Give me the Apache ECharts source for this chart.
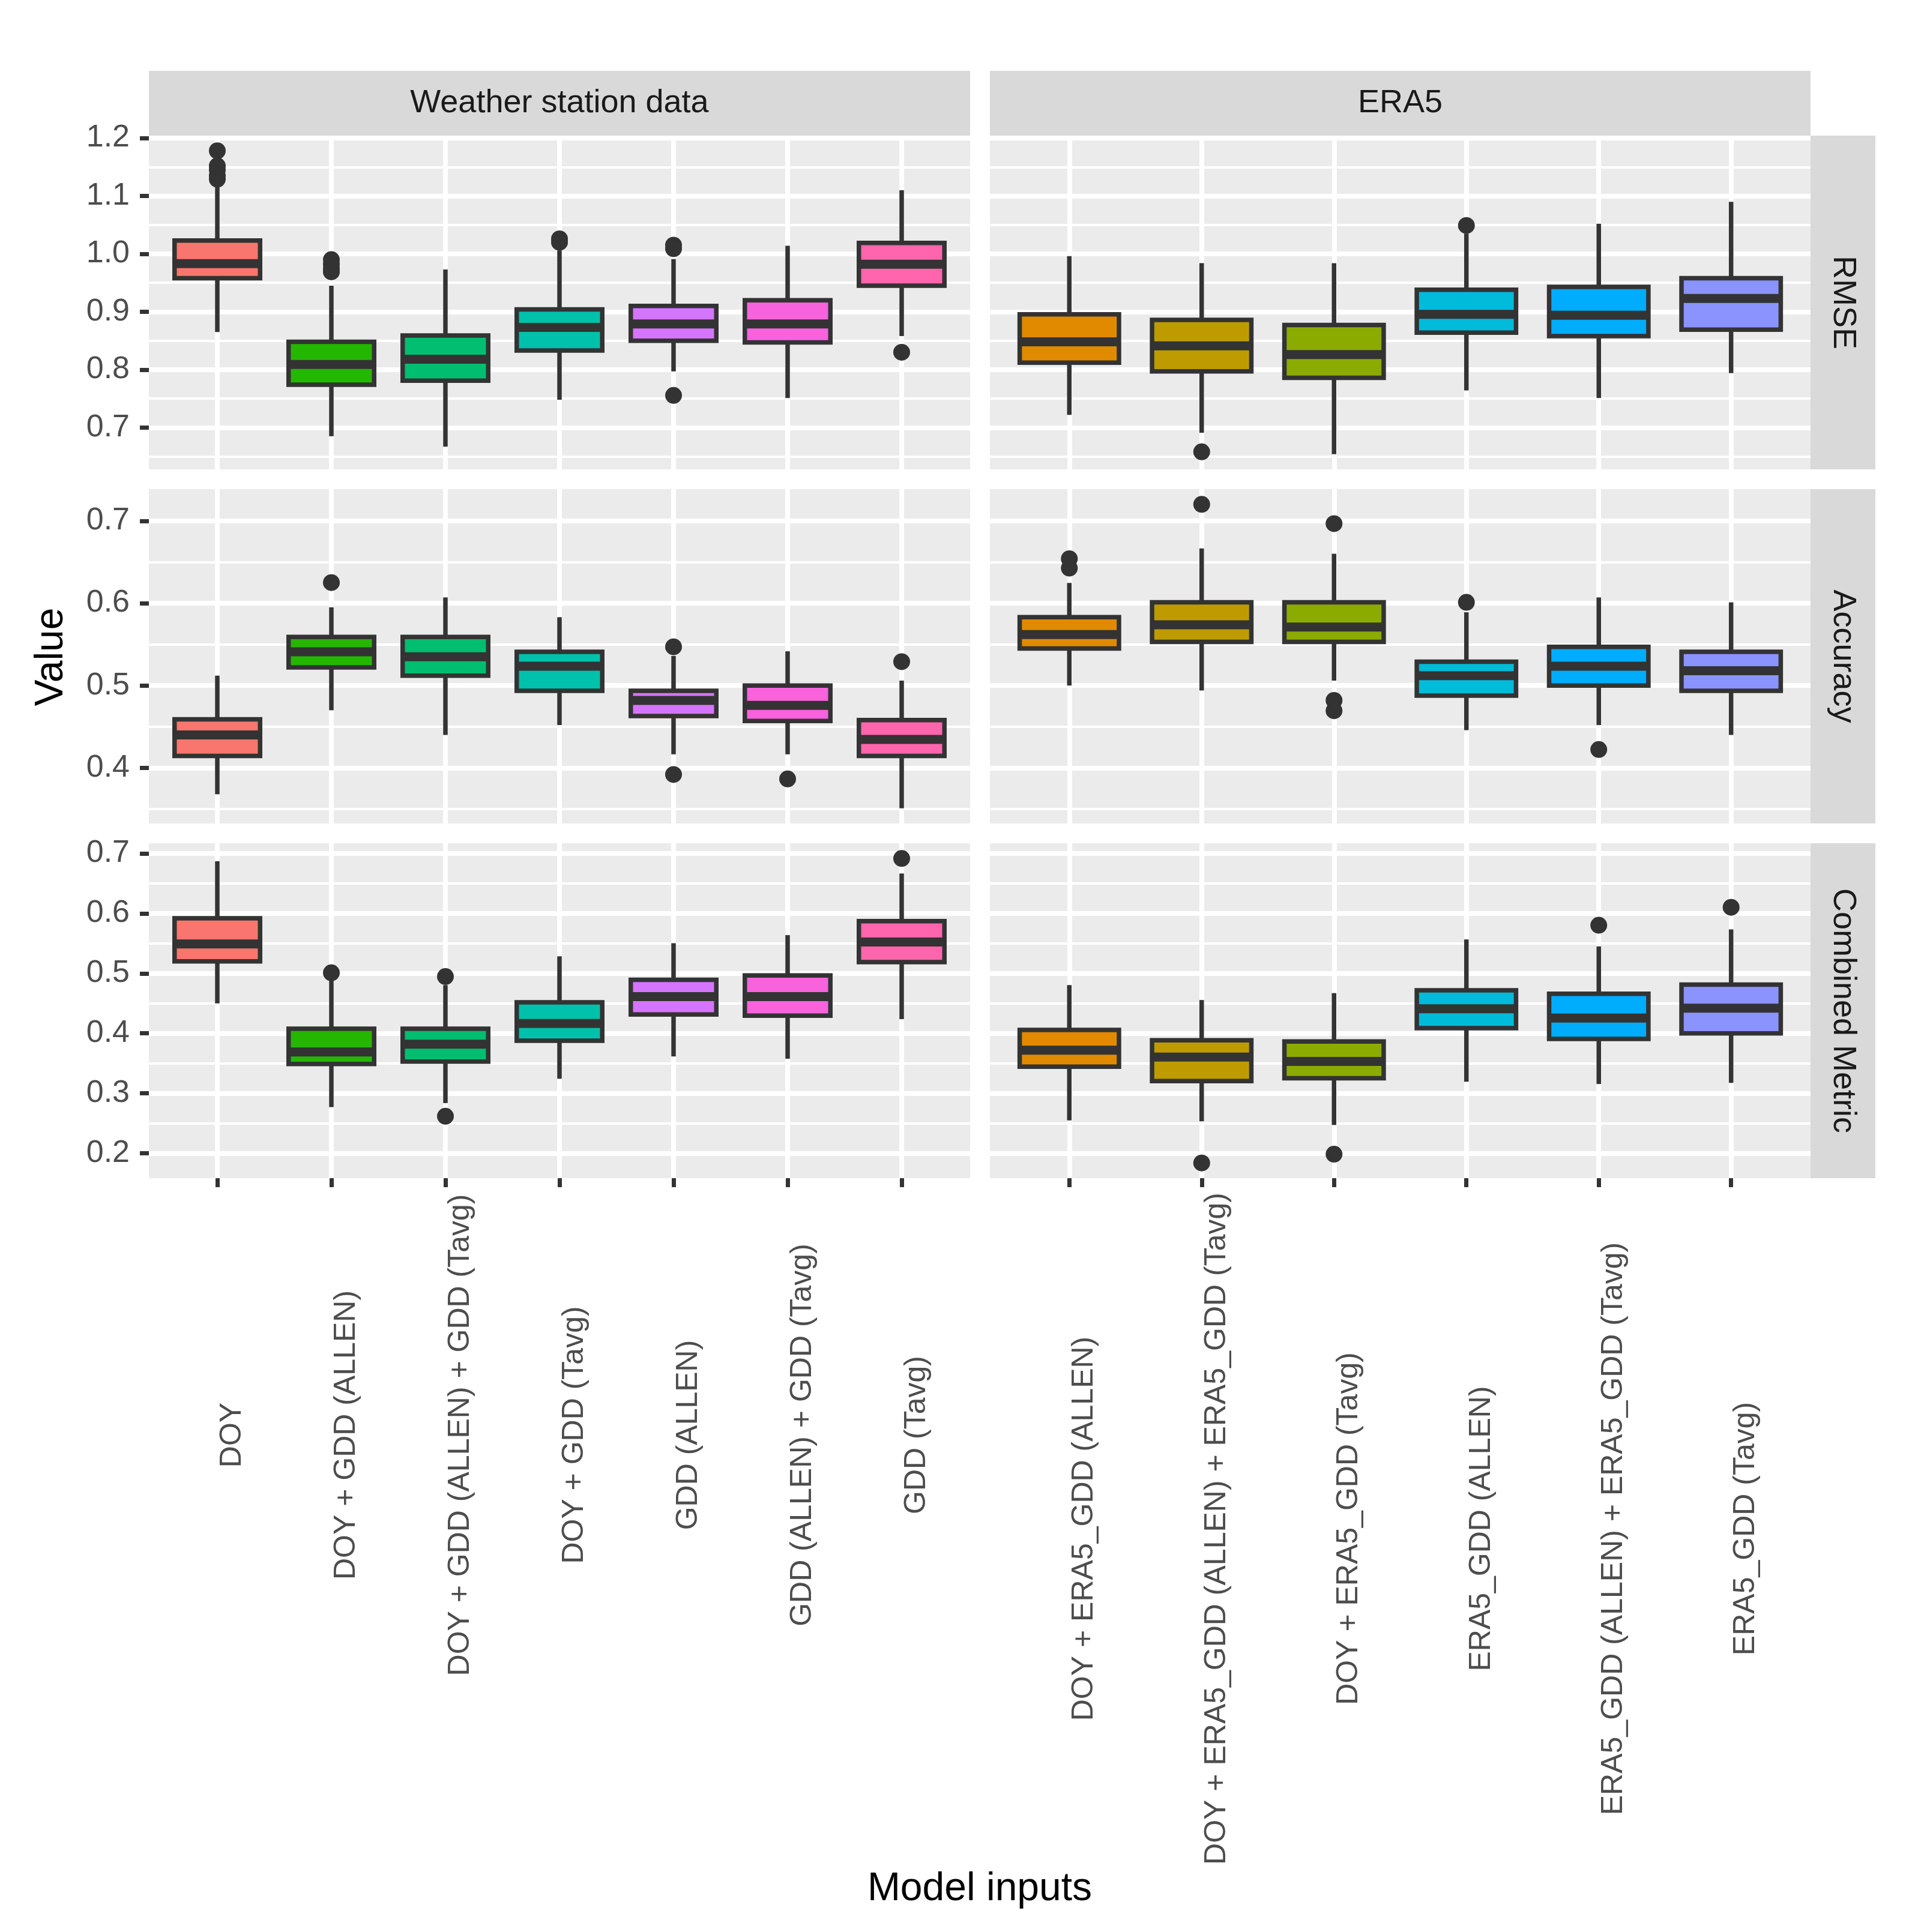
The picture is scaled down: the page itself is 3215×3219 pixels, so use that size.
<!DOCTYPE html>
<html>
<head>
<meta charset="utf-8">
<script src="https://cdn.jsdelivr.net/npm/echarts@6/dist/echarts.min.js"></script>
<style>
html,body{margin:0;padding:0;background:#ffffff;}
#chart{width:3215px;height:3219px;}
</style>
</head>
<body>
<div id="chart"></div>
<script>
// ---------- DATA ----------
const stationCats = ['DOY', 'DOY + GDD (ALLEN)', 'DOY + GDD (ALLEN) + GDD (Tavg)', 'DOY + GDD (Tavg)', 'GDD (ALLEN)', 'GDD (ALLEN) + GDD (Tavg)', 'GDD (Tavg)'];
const era5Cats = ['DOY + ERA5_GDD (ALLEN)', 'DOY + ERA5_GDD (ALLEN) + ERA5_GDD (Tavg)', 'DOY + ERA5_GDD (Tavg)', 'ERA5_GDD (ALLEN)', 'ERA5_GDD (ALLEN) + ERA5_GDD (Tavg)', 'ERA5_GDD (Tavg)'];
const stationColors = ['#F8766D', '#24B700', '#00BE70', '#00C1AB', '#D575FE', '#F962DD', '#FF65AC'];
const era5Colors = ['#E18A00', '#BE9C00', '#8CAB00', '#00BBDA', '#00ACFC', '#8B93FF'];
const sourceLabels = ['Weather station data', 'ERA5'];
const metricLabels = ['RMSE', 'Accuracy', 'Combined Metric'];
const xTitle = 'Model inputs';
const yTitle = 'Value';

// box stats: [lower whisker, Q1, median, Q3, upper whisker]
const rmseStation = [
  [0.865, 0.958, 0.983, 1.023, 1.118],
  [0.685, 0.774, 0.809, 0.848, 0.945],
  [0.667, 0.781, 0.818, 0.859, 0.973],
  [0.748, 0.833, 0.873, 0.904, 1.006],
  [0.797, 0.850, 0.879, 0.910, 0.991],
  [0.751, 0.847, 0.879, 0.920, 1.014],
  [0.858, 0.945, 0.982, 1.019, 1.110]
];
const rmseStationOut = [[1.178, 1.152, 1.145, 1.135, 1.129], [0.990, 0.982, 0.975, 0.969], [], [1.026, 1.020], [1.015, 1.009, 0.7555], [], [0.830]];
const rmseEra5 = [
  [0.722, 0.812, 0.848, 0.8955, 0.996],
  [0.691, 0.797, 0.841, 0.886, 0.984],
  [0.654, 0.786, 0.826, 0.877, 0.984],
  [0.764, 0.864, 0.8955, 0.938, 1.035],
  [0.751, 0.858, 0.894, 0.943, 1.052],
  [0.794, 0.869, 0.923, 0.958, 1.090]
];
const rmseEra5Out = [[], [0.658], [], [1.049], [], []];

const accStation = [
  [0.368, 0.4145, 0.440, 0.459, 0.512],
  [0.470, 0.522, 0.541, 0.559, 0.595],
  [0.440, 0.512, 0.535, 0.559, 0.607],
  [0.452, 0.4936, 0.5235, 0.541, 0.583],
  [0.4165, 0.463, 0.482, 0.4936, 0.536],
  [0.4165, 0.457, 0.476, 0.500, 0.5416],
  [0.351, 0.4145, 0.4346, 0.458, 0.506]
];
const accStationOut = [[], [0.625], [], [], [0.547, 0.392], [0.3866], [0.529]];
const accEra5 = [
  [0.500, 0.545, 0.562, 0.583, 0.6246],
  [0.494, 0.553, 0.5737, 0.601, 0.6665],
  [0.506, 0.553, 0.571, 0.601, 0.660],
  [0.4458, 0.4877, 0.512, 0.529, 0.589],
  [0.452, 0.500, 0.5235, 0.547, 0.607],
  [0.440, 0.4936, 0.518, 0.541, 0.601]
];
const accEra5Out = [[0.654, 0.6426], [0.720], [0.6966, 0.482, 0.4694], [0.601], [0.4223], []];

const combStation = [
  [0.450, 0.520, 0.549, 0.592, 0.687],
  [0.277, 0.349, 0.369, 0.4076, 0.488],
  [0.2837, 0.353, 0.382, 0.4076, 0.4805],
  [0.3243, 0.3876, 0.4164, 0.4517, 0.5285],
  [0.3615, 0.4314, 0.4613, 0.4893, 0.5503],
  [0.3577, 0.4295, 0.4613, 0.4966, 0.5638],
  [0.4237, 0.5189, 0.5523, 0.5872, 0.6666]
];
const combStationOut = [[], [0.501], [0.4947, 0.2618], [], [], [], [0.6916]];
const combEra5 = [
  [0.2549, 0.3443, 0.3719, 0.4057, 0.4805],
  [0.2533, 0.3205, 0.3604, 0.3884, 0.4556],
  [0.2472, 0.3251, 0.3531, 0.3865, 0.4671],
  [0.3193, 0.4088, 0.441, 0.4717, 0.5565],
  [0.3155, 0.3907, 0.4256, 0.4659, 0.545],
  [0.3174, 0.3999, 0.4421, 0.4813, 0.5734]
];
const combEra5Out = [[], [0.1839], [0.1985], [], [0.5803], [0.6102]];

const rmseTicks = [0.7, 0.8, 0.9, 1.0, 1.1, 1.2];
const rmseMinor = [0.65, 0.75, 0.85, 0.95, 1.05, 1.15];
const accTicks = [0.4, 0.5, 0.6, 0.7];
const accMinor = [0.35, 0.45, 0.55, 0.65];
const combTicks = [0.2, 0.3, 0.4, 0.5, 0.6, 0.7];
const combMinor = [0.25, 0.35, 0.45, 0.55, 0.65];

// ---------- LAYOUT / STYLE ----------
const FONT = '"Liberation Sans", Arial, Helvetica, sans-serif';
const colLeft = [248, 1649];
const colWidth = [1368, 1367];
const rowTop = [226, 815, 1405];
const rowHeight = [556, 557, 558];
const stripTop = 118, stripH = 108;
const sideStripLeft = 3016, sideStripW = 108;
const xLabelMargin = [428, 584];

const rows = [
  {stats: [rmseStation, rmseEra5], out: [rmseStationOut, rmseEra5Out], ticks: rmseTicks, minor: rmseMinor},
  {stats: [accStation, accEra5], out: [accStationOut, accEra5Out], ticks: accTicks, minor: accMinor},
  {stats: [combStation, combEra5], out: [combStationOut, combEra5Out], ticks: combTicks, minor: combMinor}
];
const cats = [stationCats, era5Cats];
const colors = [stationColors, era5Colors];

function rowRange(r) {
  let vals = [];
  r.stats.forEach(s => s.forEach(b => vals.push(...b)));
  r.out.forEach(o => o.forEach(a => vals.push(...a)));
  const lo = Math.min(...vals), hi = Math.max(...vals);
  const pad = 0.05 * (hi - lo);
  return [lo - pad, hi + pad];
}

function makeRender(cols) {
  return function (params, api) {
    const x = api.value(0);
    const lo = api.coord([x, api.value(1)]);
    const q1 = api.coord([x, api.value(2)]);
    const md = api.coord([x, api.value(3)]);
    const q3 = api.coord([x, api.value(4)]);
    const hi = api.coord([x, api.value(5)]);
    const w = api.size([0.75, 0])[0];
    const cx = lo[0];
    const ls = {stroke: '#333333', lineWidth: 7.5};
    return {
      type: 'group',
      children: [
        {type: 'line', shape: {x1: cx, y1: hi[1], x2: cx, y2: q3[1]}, style: ls},
        {type: 'line', shape: {x1: cx, y1: q1[1], x2: cx, y2: lo[1]}, style: ls},
        {type: 'rect', shape: {x: cx - w / 2, y: q3[1], width: w, height: q1[1] - q3[1]},
          style: {fill: cols[params.dataIndex], stroke: '#333333', lineWidth: 7.5}},
        {type: 'line', shape: {x1: cx - w / 2, y1: md[1], x2: cx + w / 2, y2: md[1]},
          style: {stroke: '#333333', lineWidth: 15}}
      ]
    };
  };
}

const grids = [], xAxes = [], yAxes = [], minorY = [], series = [];
rows.forEach((r, ri) => {
  const [ymin, ymax] = rowRange(r);
  [0, 1].forEach(ci => {
    const gi = ri * 2 + ci;
    const n = cats[ci].length;
    const idx = cats[ci].map((_, i) => i);
    grids.push({left: colLeft[ci], top: rowTop[ri], width: colWidth[ci], height: rowHeight[ri],
      show: true, backgroundColor: '#EBEBEB', borderWidth: 0, containLabel: false, outerBoundsMode: 'none'});
    const bottom = ri === 2;
    xAxes.push({
      type: 'value', gridIndex: gi, min: -0.6, max: n - 1 + 0.6, position: 'bottom',
      axisLine: {show: false, onZero: false},
      axisTick: {show: bottom, customValues: idx, length: 15, lineStyle: {color: '#333333', width: 7}},
      axisLabel: {show: bottom, customValues: idx, formatter: v => cats[ci][Math.round(v)],
        rotate: 90, align: 'center', verticalAlign: 'top', margin: xLabelMargin[ci],
        fontSize: 50, color: '#4D4D4D', fontFamily: FONT},
      splitLine: {show: true, lineStyle: {color: '#FFFFFF', width: 8}},
      minorSplitLine: {show: false}
    });
    yAxes.push({
      type: 'value', gridIndex: gi, min: ymin, max: ymax, position: 'left',
      axisLine: {show: false, onZero: false},
      axisTick: {show: ci === 0, customValues: r.ticks, length: 15, lineStyle: {color: '#333333', width: 7}},
      axisLabel: {show: ci === 0, customValues: r.ticks, formatter: v => v.toFixed(1), margin: 32,
        fontSize: 52, color: '#4D4D4D', fontFamily: FONT},
      splitLine: {show: true, lineStyle: {color: '#FFFFFF', width: 8}}
    });
    minorY.push({
      type: 'value', gridIndex: gi, min: ymin, max: ymax, position: 'left',
      axisLine: {show: false, onZero: false},
      axisTick: {show: false, customValues: r.minor},
      axisLabel: {show: false, customValues: r.minor},
      splitLine: {show: true, lineStyle: {color: '#FFFFFF', width: 4}}
    });
    series.push({
      type: 'custom', xAxisIndex: gi, yAxisIndex: gi,
      renderItem: makeRender(colors[ci]),
      encode: {x: 0, y: [1, 2, 3, 4, 5]},
      data: r.stats[ci].map((b, i) => [i, ...b]),
      z: 3, silent: true
    });
    const pts = [];
    r.out[ci].forEach((arr, i) => arr.forEach(v => pts.push([i, v])));
    series.push({
      type: 'scatter', xAxisIndex: gi, yAxisIndex: gi, data: pts,
      symbol: 'circle', symbolSize: 28, itemStyle: {color: '#333333', opacity: 1},
      z: 4, silent: true
    });
  });
});

const graphics = [];
sourceLabels.forEach((t, ci) => {
  graphics.push({type: 'rect', shape: {x: colLeft[ci], y: stripTop, width: colWidth[ci], height: stripH},
    style: {fill: '#D9D9D9'}, silent: true});
  graphics.push({type: 'text', x: colLeft[ci] + colWidth[ci] / 2, y: stripTop + stripH / 2,
    style: {text: t, fill: '#1A1A1A', fontSize: 54, fontFamily: FONT, align: 'center', verticalAlign: 'middle'}, silent: true});
});
metricLabels.forEach((t, ri) => {
  graphics.push({type: 'rect', shape: {x: sideStripLeft, y: rowTop[ri], width: sideStripW, height: rowHeight[ri]},
    style: {fill: '#D9D9D9'}, silent: true});
  graphics.push({type: 'text', x: sideStripLeft + sideStripW / 2, y: rowTop[ri] + rowHeight[ri] / 2, rotation: -Math.PI / 2,
    style: {text: t, fill: '#1A1A1A', fontSize: 54, fontFamily: FONT, align: 'center', verticalAlign: 'middle'}, silent: true});
});
graphics.push({type: 'text', x: 86, y: (rowTop[0] + rowTop[2] + rowHeight[2]) / 2, rotation: Math.PI / 2,
  style: {text: yTitle, fill: '#000000', fontSize: 66, fontFamily: FONT, align: 'center', verticalAlign: 'middle'}, silent: true});
graphics.push({type: 'text', x: (colLeft[0] + colLeft[1] + colWidth[1]) / 2, y: 3148,
  style: {text: xTitle, fill: '#000000', fontSize: 66, fontFamily: FONT, align: 'center', verticalAlign: 'middle'}, silent: true});

const chart = echarts.init(document.getElementById('chart'), null, {renderer: 'canvas', width: 3215, height: 3219});
chart.setOption({
  animation: false,
  backgroundColor: '#FFFFFF',
  tooltip: {show: false},
  grid: grids,
  xAxis: xAxes,
  yAxis: yAxes.concat(minorY),
  series: series,
  graphic: graphics
});
</script>
</body>
</html>
